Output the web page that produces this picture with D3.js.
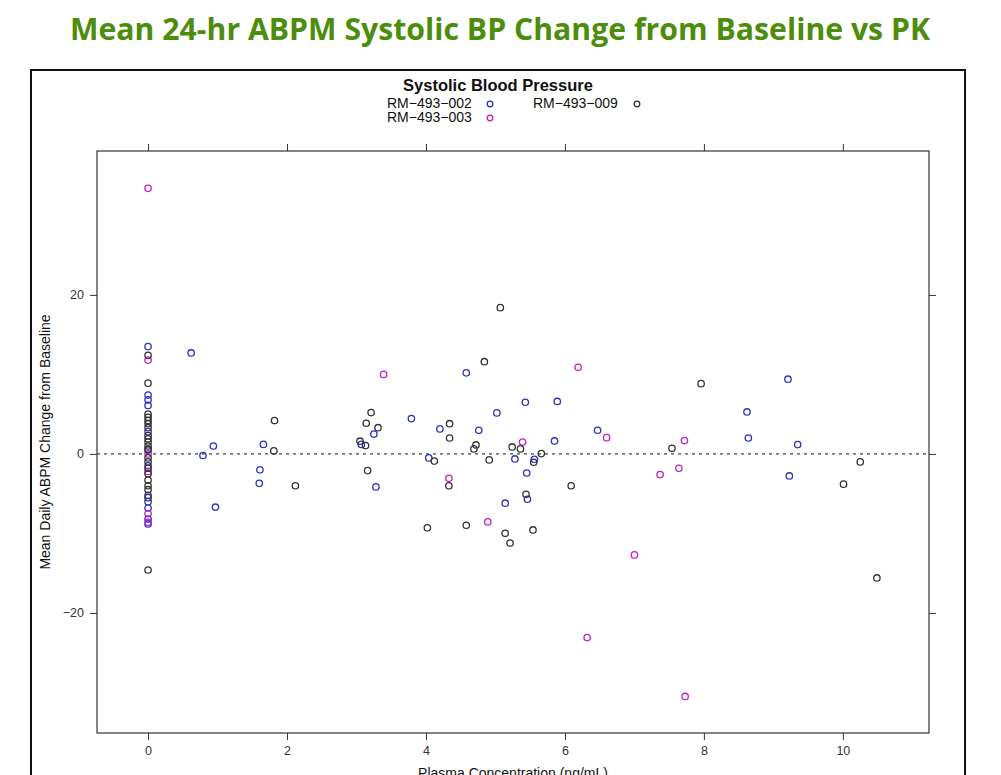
<!DOCTYPE html>
<html>
<head>
<meta charset="utf-8">
<script src="https://cdn.jsdelivr.net/npm/d3@7"></script>
<style>
  body { margin: 0; background: #fff; }
  svg { display: block; }
  .tick text { font-family: "Liberation Sans", Arial, sans-serif; font-size: 12.5px; fill: #333; }
  .tick line { stroke: #333; }
</style>
</head>
<body>
<svg id="chart" width="1001" height="775"></svg>
<script>
// subjects and their colours
const subjects = ["RM\u2212493\u2212002", "RM\u2212493\u2212003", "RM\u2212493\u2212009"];
const subjectColors = ["#2f2fc4", "#c21fc2", "#333333"];

// [plasma concentration (ng/mL), change from baseline (mmHg)]
const subject002 = [
  [0, 13.5], [0, 7.4], [0, 6.8], [0, 6.1], [0, 2.8], [0, 0.6], [0, -1.5], [0, -5.2],
  [0, -6.0], [0, -6.8], [0, -8.2], [0, -8.8],
  [0.62, 12.7], [0.79, -0.2], [0.94, 1.0], [0.97, -6.7], [1.66, 1.2], [1.61, -2.0],
  [1.60, -3.7], [3.25, 2.5], [3.07, 1.2], [3.28, -4.15], [3.79, 4.45], [4.20, 3.15],
  [4.04, -0.5], [4.58, 10.2], [5.43, 6.5], [5.89, 6.6], [5.02, 5.16], [4.76, 2.98],
  [6.47, 2.98], [5.85, 1.63], [5.28, -0.63], [5.56, -0.67], [5.45, -2.4], [5.46, -5.7],
  [5.14, -6.2], [9.21, 9.4], [8.62, 5.28], [8.64, 2.0], [9.35, 1.17], [9.23, -2.77]
];
const subject003 = [
  [0, 33.4], [0, 11.8], [0, 0.0], [0, -2.2], [0, -7.5], [0, -8.6],
  [3.39, 10.0], [4.33, -3.06], [6.19, 10.9], [6.60, 2.05], [5.39, 1.5], [4.89, -8.55],
  [7.00, -12.7], [7.37, -2.6], [7.72, 1.68], [7.64, -1.8], [6.32, -23.1], [7.73, -30.5]
];
const subject009 = [
  [0, 12.4], [0, 8.9], [0, 5.0], [0, 4.6], [0, 4.2], [0, 3.8], [0, 3.3], [0, 2.3],
  [0, 1.9], [0, 1.5], [0, 1.0], [0, 0.5], [0, -0.5], [0, -1.0], [0, -1.8], [0, -2.5],
  [0, -3.3], [0, -4.0], [0, -4.5], [0, -5.5], [0, -14.6],
  [1.82, 4.2], [1.81, 0.38], [2.12, -4.0], [3.21, 5.2], [3.14, 3.86], [3.31, 3.3],
  [3.05, 1.6], [3.13, 1.05], [3.16, -2.1], [4.34, 3.8], [4.34, 2.0], [4.12, -0.9],
  [4.33, -4.0], [4.02, -9.3], [5.07, 18.4], [4.84, 11.6], [4.72, 1.13], [4.69, 0.63],
  [5.24, 0.88], [5.36, 0.63], [5.66, 0.04], [4.91, -0.75], [5.55, -1.05], [6.09, -4.0],
  [5.44, -5.07], [4.58, -8.97], [5.14, -9.98], [5.54, -9.56], [5.21, -11.2],
  [7.96, 8.84], [7.54, 0.71], [10.25, -1.0], [10.01, -3.8], [10.49, -15.6]
];
const seriesData = [subject002, subject003, subject009];

const xTicks = [0, 2, 4, 6, 8, 10];
const yTicks = [-20, 0, 20];

translate = function(a, b) {
  return "translate(" + a + ", " + b + ")";
}

const svg = d3.select("#chart");
const font = '"Liberation Sans", Arial, sans-serif';

// page title
svg.append("text")
  .attr("x", 70)
  .attr("y", 40)
  .attr("textLength", 860)
  .attr("lengthAdjust", "spacingAndGlyphs")
  .style("font-family", '"Open Sans", "DejaVu Sans", sans-serif')
  .style("font-weight", "bold")
  .style("font-size", "31px")
  .style("fill", "#4c8d0b")
  .text("Mean 24-hr ABPM Systolic BP Change from Baseline vs PK");

// outer frame
svg.append("rect")
  .attr("x", 31).attr("y", 70)
  .attr("width", 934).attr("height", 740)
  .attr("fill", "none")
  .attr("stroke", "#111")
  .attr("stroke-width", 2);

// panel
const panel = { left: 97, top: 151, right: 929, bottom: 733 };

let x = d3.scaleLinear().domain([-0.735, 11.24]).range([panel.left, panel.right]);
let y = d3.scaleLinear().domain([-35.1, 38.1]).range([panel.bottom, panel.top]);

let xBottom = svg.append("g").attr("transform", translate(0, panel.bottom))
  .call(d3.axisBottom(x).tickValues(xTicks).tickSize(7).tickSizeOuter(0).tickPadding(6));
let xTop = svg.append("g").attr("transform", translate(0, panel.top))
  .call(d3.axisTop(x).tickValues(xTicks).tickSize(7).tickSizeOuter(0).tickFormat(""));
let yLeft = svg.append("g").attr("transform", translate(panel.left, 0))
  .call(d3.axisLeft(y).tickValues(yTicks).tickSize(7).tickSizeOuter(0).tickPadding(6));
let yRight = svg.append("g").attr("transform", translate(panel.right, 0))
  .call(d3.axisRight(y).tickValues(yTicks).tickSize(7).tickSizeOuter(0).tickFormat(""));

[xBottom, xTop, yLeft, yRight].forEach(g => g.select(".domain").remove());
yLeft.selectAll(".tick text").text(d => d < 0 ? "\u2212" + Math.abs(d) : d);

svg.append("rect")
  .attr("x", panel.left).attr("y", panel.top)
  .attr("width", panel.right - panel.left)
  .attr("height", panel.bottom - panel.top)
  .attr("fill", "none")
  .attr("stroke", "#333")
  .attr("stroke-width", 1.2);

// zero reference line
svg.append("line")
  .attr("x1", panel.left).attr("x2", panel.right)
  .attr("y1", y(0)).attr("y2", y(0))
  .attr("stroke", "#444")
  .attr("stroke-width", 1.2)
  .attr("stroke-dasharray", "3,4");

// points, one group per subject
seriesData.forEach(function(data, i) {
  svg.append("g")
    .selectAll("circle")
    .data(data)
    .enter()
    .append("circle")
    .attr("cx", d => x(d[0]))
    .attr("cy", d => y(d[1]))
    .attr("r", 3.2)
    .attr("fill", "none")
    .attr("stroke", subjectColors[i])
    .attr("stroke-width", 1.3);
});

// axis titles
svg.append("text")
  .attr("x", (panel.left + panel.right) / 2)
  .attr("y", 778)
  .attr("text-anchor", "middle")
  .style("font-family", font)
  .style("font-size", "14px")
  .style("fill", "#111")
  .text("Plasma Concentration (ng/mL)");

svg.append("text")
  .attr("transform", translate(50, (panel.top + panel.bottom) / 2) + " rotate(-90)")
  .attr("text-anchor", "middle")
  .style("font-family", font)
  .style("font-size", "14px")
  .style("fill", "#111")
  .text("Mean Daily ABPM Change from Baseline");

// legend
svg.append("text")
  .attr("x", 498)
  .attr("y", 91)
  .attr("text-anchor", "middle")
  .style("font-family", font)
  .style("font-size", "16.5px")
  .style("font-weight", "bold")
  .style("fill", "#111")
  .text("Systolic Blood Pressure");

const legendPos = [[387, 108, 490], [387, 122, 490], [533, 108, 637]];
subjects.forEach(function(s, i) {
  let p = legendPos[i];
  svg.append("text")
    .attr("x", p[0])
    .attr("y", p[1])
    .style("font-family", font)
    .style("font-size", "14px")
    .style("fill", "#111")
    .text(s);
  svg.append("circle")
    .attr("cx", p[2])
    .attr("cy", p[1] - 4)
    .attr("r", 2.8)
    .attr("fill", "none")
    .attr("stroke", subjectColors[i])
    .attr("stroke-width", 1.3);
});
</script>
</body>
</html>
